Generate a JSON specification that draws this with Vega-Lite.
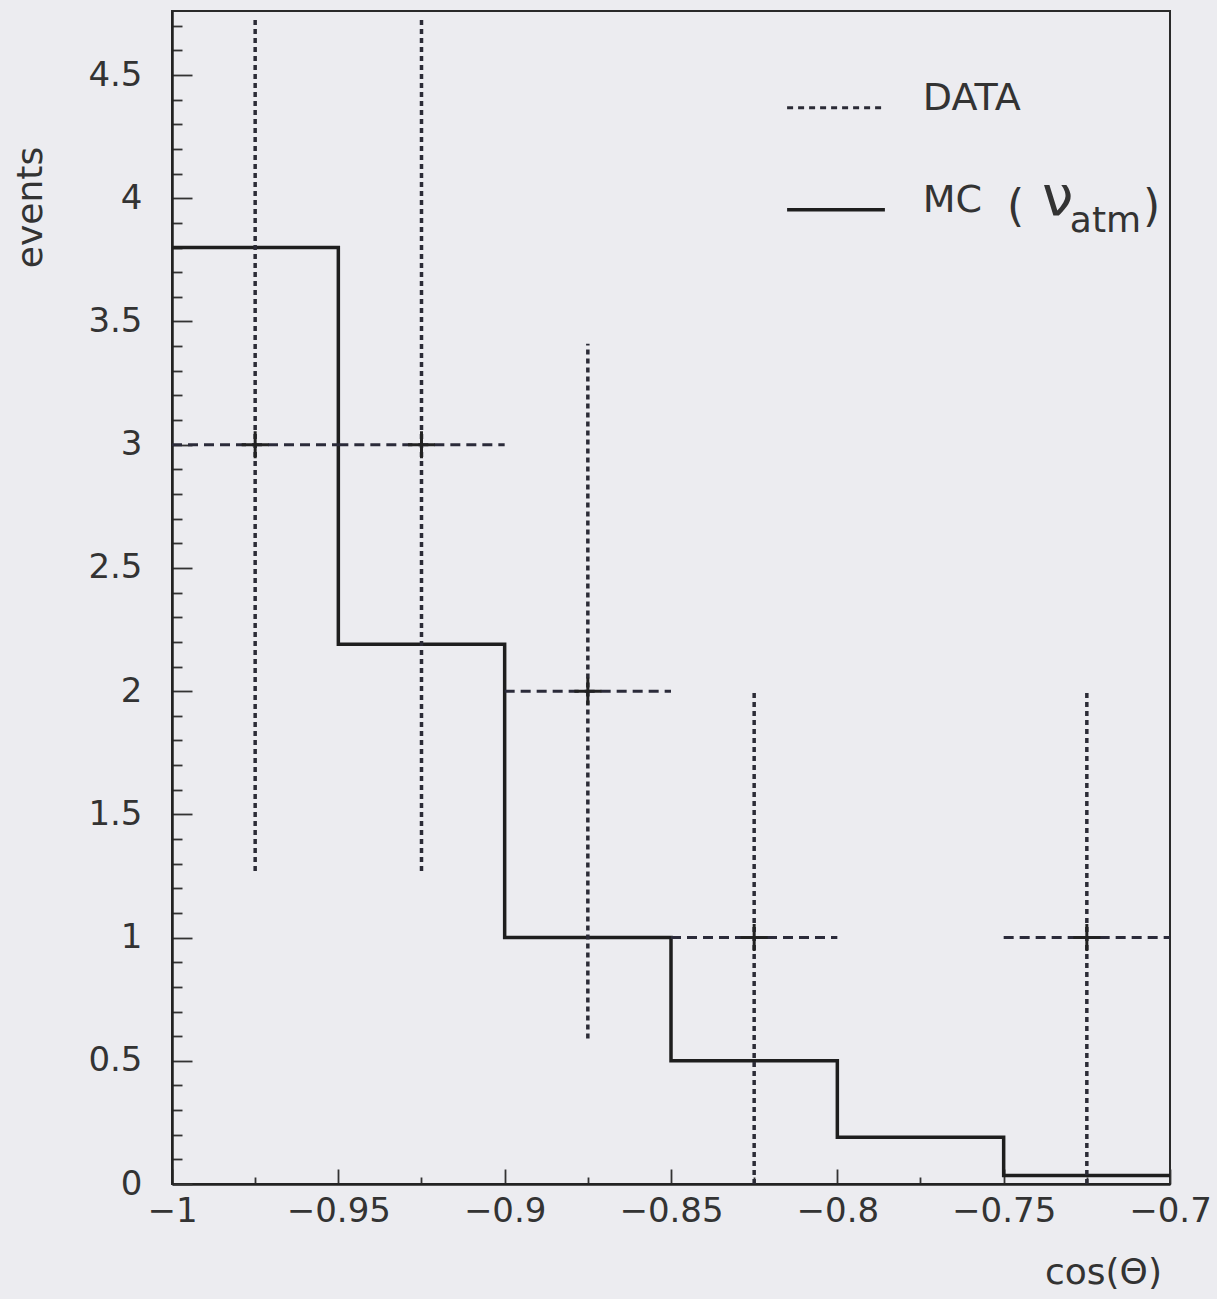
{
  "$schema": "https://vega.github.io/schema/vega-lite/v6.json",
  "width": 998,
  "height": 1173,
  "autosize": {"type": "none"},
  "padding": {"left": 172, "top": 11, "right": 47, "bottom": 115},
  "background": "#ececf0",
  "config": {"view": {"stroke": "#2a2a2a", "strokeWidth": 2}, "font": "DejaVu Sans", "axis": {"labelOverlap": false, "labelBound": false}},
  "datasets": {
    "obs": [
      {"x": -0.975, "lo": -1, "hi": -0.95, "n": 3, "elo": 1.27, "ehi": 4.73},
      {"x": -0.925, "lo": -0.95, "hi": -0.9, "n": 3, "elo": 1.27, "ehi": 4.73},
      {"x": -0.875, "lo": -0.9, "hi": -0.85, "n": 2, "elo": 0.59, "ehi": 3.41},
      {"x": -0.825, "lo": -0.85, "hi": -0.8, "n": 1, "elo": 0, "ehi": 2},
      {"x": -0.725, "lo": -0.75, "hi": -0.7, "n": 1, "elo": 0, "ehi": 2}
    ],
    "mc": [
      {"lo": -1, "hi": -0.95, "mc": 3.8},
      {"lo": -0.95, "hi": -0.9, "mc": 2.19},
      {"lo": -0.9, "hi": -0.85, "mc": 1.0},
      {"lo": -0.85, "hi": -0.8, "mc": 0.5},
      {"lo": -0.8, "hi": -0.75, "mc": 0.19},
      {"lo": -0.75, "hi": -0.7, "mc": 0.035}
    ],
    "legendLines": [
      {"item": "DATA", "x1": -0.8151, "x2": -0.7863, "y": 4.367},
      {"item": "MC", "x1": -0.8151, "x2": -0.7857, "y": 3.953}
    ],
    "legendText": [
      {"x": -0.7743, "y": 4.359, "t": "DATA"},
      {"x": -0.7743, "y": 3.945, "t": "MC"}
    ],
    "legendParen": [
      {"x": -0.7490, "y": 3.908, "t": "("},
      {"x": -0.7081, "y": 3.908, "t": ")"}
    ],
    "legendNu": [
      {"x": -0.7385, "y": 3.933, "t": "ν"}
    ],
    "legendSub": [
      {"x": -0.7301, "y": 3.864, "t": "atm"}
    ]
  },
  "layer": [
    {
      "data": {"name": "mc"},
      "transform": [{"fold": ["lo", "hi"], "as": ["edge", "xpos"]}],
      "mark": {"type": "line", "color": "#1e1e1e", "strokeWidth": 3.5},
      "encoding": {
        "x": {
          "field": "xpos", "type": "quantitative",
          "scale": {"domain": [-1, -0.7], "nice": false, "zero": false},
          "axis": {
            "title": "cos(Θ)",
            "values": [-1, -0.975, -0.95, -0.925, -0.9, -0.875, -0.85, -0.825, -0.8, -0.775, -0.75, -0.725, -0.7],
            "tickCount": 100,
            "format": "~g",
            "labelExpr": "abs(datum.value*20-round(datum.value*20))<0.001 ? datum.label : ''",
            "tickSize": {"condition": {"test": "abs(datum.value*20-round(datum.value*20))<0.001", "value": -15}, "value": -7},
            "labelFontSize": {"condition": {"test": "abs(datum.value*20-round(datum.value*20))<0.001", "value": 34}, "value": 0},
            "labelPadding": 25,
            "labelFont": "DejaVu Sans",
            "labelColor": "#333333",
            "labelFlush": false,
            "labelOverlap": false,
            "domainColor": "#222222",
            "domainWidth": 2.5,
            "tickColor": "#333333",
            "tickWidth": 1.8,
            "grid": false,
            "titleFont": "DejaVu Sans",
            "titleFontSize": 36,
            "titleFontWeight": "normal",
            "titleColor": "#333333",
            "titleX": 931,
            "titleY": 88,
            "titleAlign": "center",
            "titleBaseline": "middle"
          }
        },
        "y": {
          "field": "mc", "type": "quantitative",
          "scale": {"domain": [0, 4.76], "nice": false, "zero": false},
          "axis": {
            "title": "events",
            "values": [0, 0.1, 0.2, 0.3, 0.4, 0.5, 0.6, 0.7, 0.8, 0.9, 1, 1.1, 1.2, 1.3, 1.4, 1.5, 1.6, 1.7, 1.8, 1.9, 2, 2.1, 2.2, 2.3, 2.4, 2.5, 2.6, 2.7, 2.8, 2.9, 3, 3.1, 3.2, 3.3, 3.4, 3.5, 3.6, 3.7, 3.8, 3.9, 4, 4.1, 4.2, 4.3, 4.4, 4.5, 4.6, 4.7],
            "tickCount": 100,
            "format": "~g",
            "labelExpr": "abs(datum.value*2-round(datum.value*2))<0.001 ? datum.label : ''",
            "tickSize": {"condition": {"test": "abs(datum.value*2-round(datum.value*2))<0.001", "value": -20}, "value": -10},
            "labelFontSize": {"condition": {"test": "abs(datum.value*2-round(datum.value*2))<0.001", "value": 34}, "value": 0},
            "labelPadding": 50,
            "labelFont": "DejaVu Sans",
            "labelColor": "#333333",
            "labelFlush": false,
            "labelOverlap": false,
            "labelBaseline": "middle",
            "domainColor": "#222222",
            "domainWidth": 2.5,
            "tickColor": "#333333",
            "tickWidth": 1.8,
            "grid": false,
            "titleFont": "DejaVu Sans",
            "titleFontSize": 36,
            "titleFontWeight": "normal",
            "titleColor": "#333333",
            "titleX": -142,
            "titleY": 196,
            "titleAngle": -90,
            "titleAlign": "center",
            "titleBaseline": "middle"
          }
        },
        "order": [{"field": "xpos", "type": "quantitative"}, {"field": "edge", "type": "nominal"}]
      }
    },
    {
      "data": {"name": "obs"},
      "mark": {"type": "rule", "color": "#2b2b3a", "strokeWidth": 3, "strokeDash": [10, 6]},
      "encoding": {
        "x": {"field": "lo", "type": "quantitative"},
        "x2": {"field": "hi"},
        "y": {"field": "n", "type": "quantitative"}
      }
    },
    {
      "data": {"name": "obs"},
      "mark": {"type": "rule", "color": "#2b2b36", "strokeWidth": 3.5, "strokeDash": [5, 4], "clip": true},
      "encoding": {
        "x": {"field": "x", "type": "quantitative"},
        "y": {"field": "elo", "type": "quantitative"},
        "y2": {"field": "ehi"}
      }
    },
    {
      "data": {"name": "obs"},
      "mark": {"type": "point", "shape": "M-1,0H1M0,-1V1", "size": 729, "filled": false, "color": "#222222", "strokeWidth": 3, "opacity": 1},
      "encoding": {
        "x": {"field": "x", "type": "quantitative"},
        "y": {"field": "n", "type": "quantitative"}
      }
    },
    {
      "data": {"name": "legendLines"},
      "transform": [{"filter": "datum.item === 'DATA'"}],
      "mark": {"type": "rule", "color": "#2b2b36", "strokeWidth": 3, "strokeDash": [6, 5]},
      "encoding": {
        "x": {"field": "x1", "type": "quantitative"},
        "x2": {"field": "x2"},
        "y": {"field": "y", "type": "quantitative"}
      }
    },
    {
      "data": {"name": "legendLines"},
      "transform": [{"filter": "datum.item === 'MC'"}],
      "mark": {"type": "rule", "color": "#1e1e1e", "strokeWidth": 3.5},
      "encoding": {
        "x": {"field": "x1", "type": "quantitative"},
        "x2": {"field": "x2"},
        "y": {"field": "y", "type": "quantitative"}
      }
    },
    {
      "data": {"name": "legendText"},
      "mark": {"type": "text", "align": "left", "baseline": "alphabetic", "font": "DejaVu Sans", "fontSize": 38, "color": "#333333"},
      "encoding": {
        "x": {"field": "x", "type": "quantitative"},
        "y": {"field": "y", "type": "quantitative"},
        "text": {"field": "t"}
      }
    },
    {
      "data": {"name": "legendParen"},
      "mark": {"type": "text", "align": "left", "baseline": "alphabetic", "font": "DejaVu Sans", "fontSize": 44, "color": "#333333"},
      "encoding": {
        "x": {"field": "x", "type": "quantitative"},
        "y": {"field": "y", "type": "quantitative"},
        "text": {"field": "t"}
      }
    },
    {
      "data": {"name": "legendNu"},
      "mark": {"type": "text", "align": "left", "baseline": "alphabetic", "font": "DejaVu Sans", "fontSize": 56, "color": "#333333"},
      "encoding": {
        "x": {"field": "x", "type": "quantitative"},
        "y": {"field": "y", "type": "quantitative"},
        "text": {"field": "t"}
      }
    },
    {
      "data": {"name": "legendSub"},
      "mark": {"type": "text", "align": "left", "baseline": "alphabetic", "font": "DejaVu Sans", "fontSize": 36, "color": "#333333"},
      "encoding": {
        "x": {"field": "x", "type": "quantitative"},
        "y": {"field": "y", "type": "quantitative"},
        "text": {"field": "t"}
      }
    }
  ]
}
